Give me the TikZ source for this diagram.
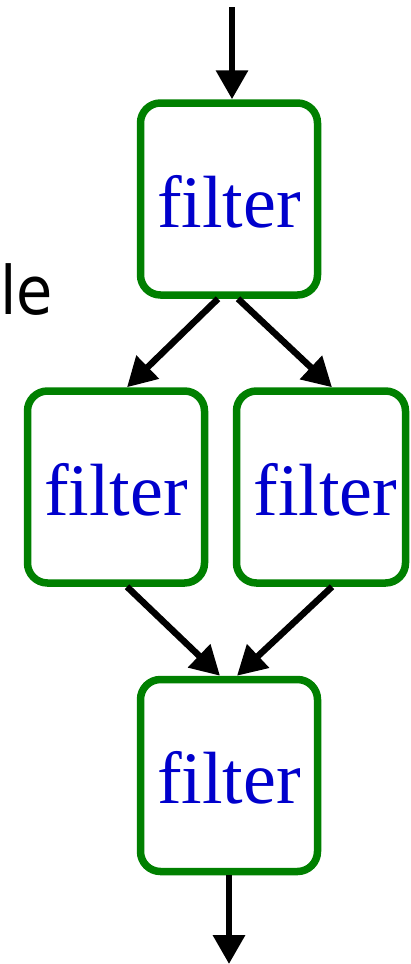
\documentclass[tikz,border=0pt]{standalone}
\usepackage{fontspec}
\setmainfont{Liberation Serif}
\newfontfamily\labelfont[FakeStretch=0.88]{DejaVu Sans}
\usetikzlibrary{arrows.meta}
\definecolor{boxgreen}{RGB}{0,128,0}
\definecolor{textblue}{RGB}{0,0,204}
\tikzset{
  filterbox/.style={draw=boxgreen, line width=7.5pt, rounded corners=20pt,
    fill=white, minimum height=192pt, inner sep=0pt,
    text=textblue, font=\fontsize{74}{80}\selectfont,
    text height=60pt, text depth=4pt},
  flow/.style={line width=6.5pt, -{Triangle[length=29pt,width=31pt]}}
}
\begin{document}
\begin{tikzpicture}[x=1pt, y=-1pt]
  \useasboundingbox (0,0) rectangle (410,964);

  % partly visible side label
  \node[anchor=base west, inner sep=0pt, font=\labelfont\fontsize{67}{70}\selectfont] (side) at (0,314) {le};

  % filter stages
  \node[filterbox, minimum width=177pt] (top) at (229,199) {filter};
  \node[filterbox, minimum width=177pt] (left) at (116,487) {filter};
  \node[filterbox, minimum width=169pt] (right) at (321,487) {\hspace{9pt}filter};
  \node[filterbox, minimum width=177pt] (bottom) at (229,775.5) {filter};

  % input and output ends
  \coordinate (in) at (232,7);
  \coordinate (out) at (229,964);

  % connectors
  \draw[flow] (in) -- ([xshift=3pt]top.north);
  \draw[flow] ([xshift=-11pt]top.south) -- ([xshift=11pt]left.north);
  \draw[flow] ([xshift=9pt]top.south) -- ([xshift=11pt]right.north);
  \draw[flow] ([xshift=11pt]left.south) -- ([xshift=-9pt]bottom.north);
  \draw[flow] ([xshift=11pt]right.south) -- ([xshift=8pt]bottom.north);
  \draw[flow] (bottom.south) -- (out);
\end{tikzpicture}
\end{document}
